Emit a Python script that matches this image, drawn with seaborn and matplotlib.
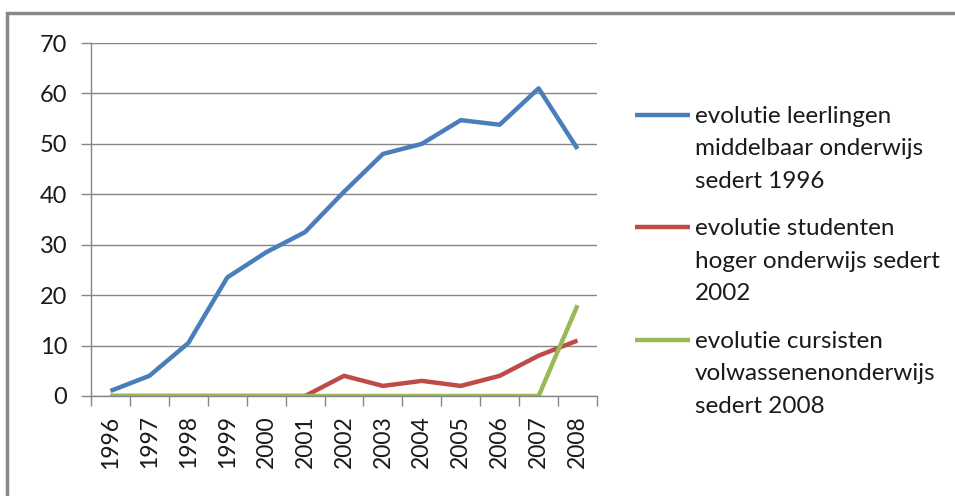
import matplotlib
matplotlib.use("Agg")
import matplotlib.pyplot as plt
import seaborn as sns
import pandas as pd
from matplotlib.legend_handler import HandlerLine2D
from matplotlib.patches import Rectangle

years = ["1996", "1997", "1998", "1999", "2000", "2001", "2002",
         "2003", "2004", "2005", "2006", "2007", "2008"]
leerlingen = [1, 4, 10.5, 23.5, 28.5, 32.5, 40.5, 48, 50, 54.7, 53.8, 61, 49]
studenten = [0, 0, 0, 0, 0, 0, 4, 2, 3, 2, 4, 8, 11]
cursisten = [0, 0, 0, 0, 0, 0, 0, 0, 0, 0, 0, 0, 18]
labels = ["evolutie leerlingen\nmiddelbaar onderwijs\nsedert 1996",
          "evolutie studenten\nhoger onderwijs sedert\n2002",
          "evolutie cursisten\nvolwassenenonderwijs\nsedert 2008"]
colors = ["#4A7EBB", "#BE4B48", "#98B954"]
yticks = [0, 10, 20, 30, 40, 50, 60, 70]

sns.set_theme(style="white")
plt.rcParams['font.family'] = ['Lato', 'DejaVu Sans']

df = pd.DataFrame({
    "year": years * 3,
    "value": leerlingen + studenten + cursisten,
    "series": [labels[0]] * 13 + [labels[1]] * 13 + [labels[2]] * 13,
})

fig = plt.figure(figsize=(9.55, 4.96), dpi=100)
ax = fig.add_axes([91 / 955, 1 - 396 / 496, (597 - 91) / 955, (396 - 43) / 496])

sns.lineplot(data=df, x="year", y="value", hue="series", palette=colors,
             linewidth=3.2, ax=ax, sort=False, legend=False)

ax.set_xlim(-0.5, 12.5)
ax.set_ylim(0, 70)
ax.set_yticks(yticks)
ax.set_xticks(range(13))
ax.set_xticklabels(years, rotation=90)
ax.set_xticks([i - 0.5 for i in range(14)], minor=True)
ax.tick_params(axis="x", which="major", length=0, pad=14, labelsize=16.5, colors="#1a1a1a")
ax.tick_params(axis="x", which="minor", length=7, width=1, color="#868686", direction="out", bottom=True)
ax.tick_params(axis="y", which="major", length=7, width=1, color="#868686", direction="out", left=True,
               labelsize=17, labelcolor="#1a1a1a", pad=10)
ax.grid(axis="y", color="#868686", linewidth=1)
ax.grid(axis="x", visible=False)
for s in ["top", "right"]:
    ax.spines[s].set_visible(False)
ax.spines["left"].set_color("#868686")
ax.spines["bottom"].set_color("#868686")
ax.spines["left"].set_linewidth(1)
ax.spines["bottom"].set_linewidth(1)
ax.set_xlabel("")
ax.set_ylabel("")
for ln in ax.get_lines():
    ln.set_solid_capstyle("butt")
    ln.set_solid_joinstyle("round")

LEG_FS = 17.5
PITCH_PT = 34 * 72 / 100  # one text line, in points


class TopLine(HandlerLine2D):
    def create_artists(self, legend, orig_handle, xdescent, ydescent, width, height, fontsize, trans):
        arts = super().create_artists(legend, orig_handle, xdescent, ydescent, width, height, fontsize, trans)
        for a in arts:
            yd = a.get_ydata()
            a.set_ydata([v + PITCH_PT for v in yd])
        return arts


handles = list(ax.get_lines())[:3]
leg = fig.legend(handles, labels, loc="upper left", bbox_to_anchor=(613 / 955, 1 - 84 / 496),
                 frameon=False, fontsize=LEG_FS, handlelength=2.26, handletextpad=0.2,
                 labelspacing=1.1, handler_map={type(handles[0]): TopLine()})
for t in leg.get_texts():
    t.set_linespacing(1.67)
    t.set_color("#1a1a1a")
for h in leg.legend_handles:
    h.set_linewidth(3.2)

fig.patches.append(Rectangle((7 / 955, -0.1), 1.2, 1 - 13 / 496 + 0.1, transform=fig.transFigure,
                             fill=False, edgecolor="#888888", linewidth=2.5))

fig.savefig("out.png", dpi=100)
